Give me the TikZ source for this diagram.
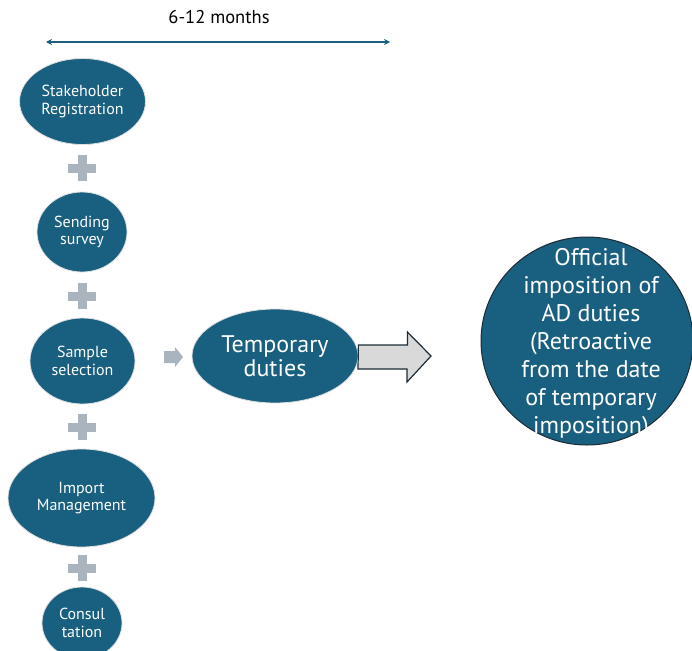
\documentclass[tikz,border=0pt]{standalone}
\usepackage{fontspec}
\setmainfont{PT Sans}
\usetikzlibrary{shapes.geometric,arrows.meta}
\definecolor{tealc}{HTML}{195F7F}
\definecolor{plusc}{HTML}{A9B4BF}
\definecolor{darkc}{HTML}{1C2B35}
\definecolor{blockc}{HTML}{D9D9D9}
\tikzset{
  blob/.style={ellipse, fill=tealc, draw=black!12, line width=0.8pt, text=white, align=center, inner sep=0pt, font=\fontsize{16}{17.5}\selectfont},
  plussign/.pic={\fill[plusc] (-14,-4.5) rectangle (14,4.5); \fill[plusc] (-4.5,-13) rectangle (4.5,13);}
}
\begin{document}
\begin{tikzpicture}[x=1pt,y=-1pt]
\useasboundingbox (0,0) rectangle (692,650);
\clip (0,0) rectangle (692,650);
% timeline
\node[font=\fontsize{18.5}{20}\selectfont, text=black] (months) at (219,17) {6-12 months};
\coordinate (tl) at (46,42);
\coordinate (tr) at (390,42);
\draw[tealc, line width=1.4pt, {Stealth[length=6pt,width=6pt]}-{Stealth[length=6pt,width=6pt]}] (tl) -- (tr);
% left column
\node[blob, minimum width=126pt, minimum height=86pt] (reg) at (82.5,101.5) {Stakeholder\\Registration};
\pic at (82,168) {plussign};
\node[blob, minimum width=90pt, minimum height=80pt] (survey) at (82,232) {Sending\\survey};
\pic at (82,296) {plussign};
\node[blob, minimum width=105pt, minimum height=86pt] (sample) at (82.5,361) {Sample\\selection};
\pic at (82,427) {plussign};
\node[blob, minimum width=147pt, minimum height=98pt] (import) at (81.5,498) {Import\\Management};
\pic at (82,568) {plussign};
\node[blob, minimum width=80pt, minimum height=72pt] (consult) at (82,623) {Consul\\tation};
% small arrow
\coordinate (sa) at (164,357);
\fill[plusc] (164,351) -- (175,351) -- (175,347) -- (183,357) -- (175,367) -- (175,363) -- (164,363) -- cycle;
% temporary duties
\node[blob, font=\fontsize{24}{24.5}\selectfont, minimum width=166pt, minimum height=94pt] (temp) at (275,356) {Temporary\\duties};
% block arrow
\draw[fill=blockc, draw=darkc, line width=1.2pt] (temp.east) ++(0,-11) -- ++(49,0) -- ++(0,-13) -- (431,356) -- (407,382) -- ++(0,-13) -- (358,369) -- cycle;
% official circle
\node[ellipse, fill=tealc, draw=darkc, line width=1pt, inner sep=0pt, minimum width=212pt, minimum height=208pt] (official) at (587,341) {};
\node[text=white, align=center, font=\fontsize{24}{28}\selectfont] (otext) at (591,344) {Official\\imposition of\\AD duties\\(Retroactive\\from the date\\of temporary\\imposition)};
\end{tikzpicture}
\end{document}
